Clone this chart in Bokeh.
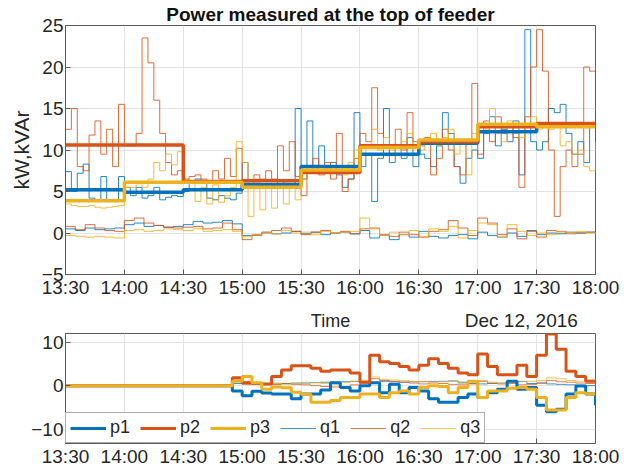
from bokeh.plotting import figure
from bokeh.models import FixedTicker, Legend, LegendItem, Range1d, Title
from bokeh.core.properties import value
from bokeh.layouts import column
from bokeh.embed import file_html
from bokeh.resources import INLINE

# ---------------- data ----------------
tick_minutes = [0, 30, 60, 90, 120, 150, 180, 210, 240, 270]
tick_labels = ["13:30", "14:00", "14:30", "15:00", "15:30", "16:00", "16:30", "17:00", "17:30", "18:00"]

# measured active power per phase, one sample every 3 minutes from 13:30
p1 = [7.4, 5.0, 7.2, 8.3, 4.2, 4.0, 6.8, 4.0, 3.8, 6.8, 5.5,
      4.5, 5.5, 4.2, 4.5, 5.5, 4.0, 4.3, 4.5, 4.4, 5.0,
      6.0, 6.5, 6.3, 4.2, 4.0, 4.5, 4.2, 4.0, 4.8, 8.5,
      5.5, 6.0, 5.8, 5.5, 5.8, 6.2, 6.0, 5.5, 15.0, 6.5,
      13.5, 8.0, 10.5, 7.5, 8.5, 7.0, 5.5, 6.5, 14.5, 8.0,
      9.5, 3.8, 9.0, 15.0, 8.5, 10.5, 9.0, 11.5, 8.0, 9.5,
      9.0, 8.0, 10.5, 14.5, 12.0, 8.0, 6.0, 9.0, 10.0, 9.0,
      12.0, 14.0, 10.5, 12.5, 11.0, 13.5, 7.0, 24.5, 11.0, 10.0,
      11.0, 15.0, 14.5, 15.5, 12.0, 9.5, 11.0, 8.5, 13.0, 14.5]
p2 = [12.5, 15.0, 8.0, 7.5, 11.8, 13.5, 9.5, 12.5, 8.0, 15.5, 10.5,
      10.5, 12.0, 23.5, 20.5, 16.0, 12.0, 8.5, 7.0, 7.5, 6.5,
      6.8, 7.0, 6.5, 6.2, 7.5, 6.5, 9.0, 6.8, 10.2, 6.0,
      6.0, 7.0, 6.5, 7.5, 6.5, 10.5, 7.5, 11.0, 6.8, 4.5,
      7.5, 9.0, 7.0, 8.5, 6.5, 12.0, 5.0, 6.5, 9.0, 12.0,
      11.0, 17.5, 12.0, 10.5, 9.5, 12.5, 10.0, 14.5, 11.0, 10.5,
      11.5, 7.0, 9.0, 12.5, 10.0, 8.0, 7.0, 11.0, 18.0, 9.5,
      13.5, 11.0, 14.0, 12.0, 13.0, 11.5, 5.5, 14.0, 20.0, 24.5,
      19.5, 10.0, 2.0, 8.0, 10.0, 8.0, 9.5, 20.0, 19.5, 20.0]
p3 = [3.5, 3.3, 3.2, 3.2, 3.3, 3.1, 3.0, 3.1, 3.2, 3.3, 5.5,
      5.5, 6.0, 5.5, 6.5, 8.5, 7.5, 9.5, 8.2, 9.8, 6.5,
      6.0, 3.8, 5.5, 3.5, 5.8, 3.7, 4.5, 5.5, 11.0, 8.5,
      2.0, 6.5, 2.8, 6.0, 3.0, 5.8, 3.5, 6.0, 4.0, 6.5,
      7.5, 8.0, 7.2, 7.8, 8.0, 7.5, 7.0, 8.5, 10.0, 9.5,
      10.5, 12.5, 10.0, 11.5, 10.0, 9.5, 11.0, 12.0, 10.5, 10.0,
      11.0, 12.0, 10.5, 11.5, 12.5, 9.5, 11.0, 7.0, 12.0, 13.0,
      12.5, 15.0, 12.0, 11.0, 13.5, 12.0, 11.5, 13.0, 14.0, 12.5,
      13.0, 12.5, 13.0, 10.5, 11.0, 9.5, 10.0, 8.0, 7.5, 11.0]

# measured reactive power per phase, one sample every 5 minutes from 13:30
q1 = [0.5, 0.3, 0.6, 0.4, 0.5, 0.6,
      1.0, 1.2, 0.8, 0.9, 0.7, 0.8,
      1.0, 1.4, 1.2, 1.3, 1.5, 1.1,
      -0.3, -0.2, 0.1, -0.1, 0.0, 0.2,
      -0.1, 0.1, -0.2, 0.0, 0.1, -0.1,
      0.3, -0.6, -0.3, -0.8, -0.2, -0.5,
      0.2, -0.4, -0.6, -0.3, -0.2, -0.7,
      0.1, -0.3, -0.5, 0.0, -0.4, 0.3,
      -0.2, 0.0, -0.1, 0.1, 0.0, 0.1,
      0.4]
q2 = [0.8, 0.4, 1.0, 0.6, 0.3, 0.2,
      1.5, 1.8, 1.2, 0.9, 0.7, 0.6,
      0.7, 0.8, 0.5, 0.6, 1.2, 0.4,
      -0.8, -0.3, 0.0, 0.3, 0.6, 0.2,
      -0.2, 0.1, 0.3, 0.0, 0.2, -0.1,
      0.5, 0.6, -0.2, -0.4, 0.1, -0.2,
      -0.5, 0.2, 0.4, 1.5, 0.6, -0.3,
      1.8, 1.2, -0.2, 0.5, -0.7, 0.2,
      -0.5, 0.3, 0.2, -0.1, 0.0, 0.1,
      0.0]
q3 = [-0.3, -0.4, -0.5, -0.4, -0.5, -0.6,
      0.3, 0.4, 0.2, 0.3, 0.5, 0.4,
      0.3, 0.5, 0.2, 0.3, 0.4, 0.2,
      -0.4, -0.2, 0.1, -0.1, 0.3, 0.0,
      0.1, -0.2, 0.2, 0.0, 0.1, 0.2,
      1.8, 0.5, -0.3, 0.1, -0.2, 0.3,
      -0.4, 0.5, 0.2, 0.8, -0.6, 0.3,
      1.2, 1.0, -0.5, 1.0, 0.2, -0.3,
      0.0, -0.2, 0.1, 0.0, 0.2, 0.0,
      0.1]

# 30-minute averages (thick steps)
avg_edges = [0, 30, 60, 90, 120, 150, 180, 210, 240, 270]
avg_p1 = [5.2, 4.9, 5.2, 5.8, 8.0, 9.5, 10.8, 12.2, 13.0]
avg_p2 = [10.6, 10.6, 6.2, 6.3, 7.3, 10.5, 11.0, 12.8, 13.2]
avg_p3 = [3.9, 6.1, 6.1, 5.5, 7.6, 10.3, 11.2, 13.1, 12.8]

# lower panel: deviations, zero until 14:55 then 5-minute steps
diff_start = 85
d_p1 = [-1.2, -2.3, -1.3, -1.7, -1.9, -1.9, -3.0, -1.9, -1.9, -1.0,
        0.7, -0.4, -1.2, 0.0, 0.7, -1.6, 0.3, -1.6, -0.4, -1.2,
        -3.0, -3.8, -3.8, -2.7, -1.9, -2.7, -1.6, -0.8, 1.0, -0.8,
        -0.4, -4.5, -6.0, -5.4, -1.9, -0.1, -1.9, -4.5]
d_p2 = [1.8, 0.7, 0.5, 0.4, 2.1, 3.6, 4.6, 4.6, 4.0, 3.3,
        3.6, 3.6, 2.9, 0.8, 7.0, 5.5, 5.1, 4.4, 3.6, 4.7,
        6.2, 5.1, 4.0, 2.9, 2.5, 7.3, 4.4, 2.5, 2.5, 4.7,
        2.1, 7.0, 11.9, 8.4, 3.3, 2.1, 1.0, 0.7]
d_p3 = [1.0, 2.1, 0.7, -0.8, -0.3, -0.5, -1.5, -2.0, -3.8, -3.8,
        -3.4, -2.7, -2.7, -1.9, -1.9, -2.7, -1.6, -1.2, -1.9, -0.4,
        0.0, -0.2, -1.6, -0.4, 1.0, -2.7, -1.2, -1.2, -0.6, -0.4,
        -0.8, -2.7, -5.6, -5.6, -2.7, -1.6, -1.9, -1.9]
d_q1 = [0.5, 0.8, 0.5, 0.3, 0.4, 0.5, 0.6, 0.6, 0.7, 0.8,
        0.8, 0.9, 1.0, 0.8, 0.7, 1.0, 0.9, 0.8, 0.9, 0.9,
        1.0, 1.0, 1.1, 0.8, 0.5, 0.4, 0.5, 0.6, 0.9, 1.0,
        0.5, 0.6, 0.4, 0.3, 0.2, 0.1, 0.0, 0.2]
d_q2 = [1.0, 0.3, 0.6, 0.4, 0.3, 0.5, 0.3, 0.2, 0.0, -0.2,
        -0.3, -0.2, 0.2, 0.6, 1.6, 1.2, 1.0, 0.8, 0.6, 0.4,
        0.6, 0.5, 0.3, 0.2, 0.4, 1.0, 0.6, 0.4, 0.5, 0.2,
        0.3, 0.6, 1.2, 0.9, 0.8, 0.6, 0.5, 0.8]
d_q3 = [1.5, 1.0, 0.6, 0.5, 0.6, 0.3, 0.6, 0.8, 0.7, 0.5,
        0.4, 0.7, 1.0, 1.2, 2.0, 1.4, 1.3, 1.2, 1.0, 1.0,
        0.8, 0.9, 1.0, 0.5, 0.9, 1.2, 0.8, 0.5, 0.7, 0.9,
        1.0, 1.2, 1.8, 1.6, 1.2, 1.0, 1.3, 1.5]

title_text = "Power measured at the top of feeder"
xlabel_text = "Time"
date_text = "Dec 12, 2016"
ylabel_text = "kW,kVAr"

# ---------------- styling ----------------
BLUE, ORANGE, YELLOW = "#0072BD", "#D95319", "#EDB120"
FONT = "Liberation Sans"
INK = "#262626"
EDGE = "#5a5a5a"
LB, RB = 65, 28
W = LB + 530 + RB

t_p = [3 * i for i in range(len(p1))]
t_q = [5 * i for i in range(len(q1))]
t_d = [0] + [diff_start + 5 * i for i in range(len(d_p1))]


def style(p, yticks):
    p.outline_line_color = EDGE
    p.outline_line_width = 1
    p.xaxis.ticker = FixedTicker(ticks=tick_minutes)
    p.xaxis.major_label_overrides = {m: s for m, s in zip(tick_minutes, tick_labels)}
    p.yaxis.ticker = FixedTicker(ticks=yticks)
    for ax in (p.xaxis[0], p.yaxis[0]):
        ax.major_tick_in = 5
        ax.major_tick_out = 0
        ax.minor_tick_in = 0
        ax.minor_tick_out = 0
        ax.axis_line_color = EDGE
        ax.major_tick_line_color = EDGE
        ax.major_label_text_font = FONT
        ax.major_label_text_font_size = "19px"
        ax.major_label_text_color = INK
        ax.major_label_standoff = 2
    p.xgrid.ticker = FixedTicker(ticks=tick_minutes)
    p.ygrid.ticker = FixedTicker(ticks=yticks)
    p.grid.grid_line_color = "#e3e3e3"
    p.grid.grid_line_width = 1
    p.background_fill_color = "white"
    p.border_fill_color = "white"
    p.min_border_left = LB
    p.min_border_right = RB


x_range = Range1d(0, 270)

# ---- top panel ----
top = figure(width=W, height=303, output_backend="svg", toolbar_location=None,
             x_range=x_range, y_range=Range1d(-5, 25), title=None,
             min_border_top=25, min_border_bottom=29)
top.add_layout(Title(text=title_text, align="center", text_font=FONT, text_font_size="19px",
                     text_font_style="bold", text_color="#111111", offset=0, standoff=2), "above")
style(top, [-5, 0, 5, 10, 15, 20, 25])
top.yaxis[0].axis_label = ylabel_text
top.yaxis[0].axis_label_text_font = FONT
top.yaxis[0].axis_label_text_font_size = "21px"
top.yaxis[0].axis_label_text_font_style = "normal"
top.yaxis[0].axis_label_text_color = INK
top.yaxis[0].axis_label_standoff = 6

for ys, c in ((p1, BLUE), (p2, ORANGE), (p3, YELLOW)):
    top.step(t_p, ys, mode="after", line_color=c, line_width=1, line_alpha=0.85)
for ys, c in ((q1, BLUE), (q2, ORANGE), (q3, YELLOW)):
    top.step(t_q, ys, mode="after", line_color=c, line_width=1, line_alpha=0.85)
for ys, c in ((avg_p1, BLUE), (avg_p2, ORANGE), (avg_p3, YELLOW)):
    top.step(avg_edges, ys + [ys[-1]], mode="after", line_color=c, line_width=3.5)

# ---- strip carrying the x label and the date ----
strip = figure(width=W, height=29, output_backend="svg", toolbar_location=None,
               x_range=x_range, y_range=Range1d(0, 1),
               min_border_left=LB, min_border_right=RB, min_border_top=0, min_border_bottom=0)
strip.axis.visible = False
strip.grid.visible = False
strip.outline_line_color = None
strip.background_fill_color = "white"
strip.border_fill_color = "white"
strip.text(x=[(tick_minutes[0] + tick_minutes[-1]) / 2], y=[0.41], text=[xlabel_text],
           text_align="center", text_baseline="middle", text_font=value(FONT),
           text_font_size="18px", text_color=INK)
strip.text(x=[261], y=[0.41], text=[date_text],
           text_align="right", text_baseline="middle", text_font=value(FONT),
           text_font_size="19px", text_color=INK)

# ---- bottom panel ----
bot = figure(width=W, height=137, output_backend="svg", toolbar_location=None,
             x_range=x_range, y_range=Range1d(-13.3, 12),
             min_border_top=1, min_border_bottom=23)
style(bot, [-10, 0, 10])

r = {}
for name, ys, c in (("q1", d_q1, BLUE), ("q2", d_q2, ORANGE), ("q3", d_q3, YELLOW)):
    r[name] = bot.step(t_d, [0.0] + ys, mode="after", line_color=c, line_width=1, line_alpha=0.75)
for name, ys, c in (("p1", d_p1, BLUE), ("p2", d_p2, ORANGE), ("p3", d_p3, YELLOW)):
    r[name] = bot.step(t_d, [0.0] + ys, mode="after", line_color=c, line_width=3)

legend = Legend(items=[LegendItem(label=k, renderers=[r[k]]) for k in ("p1", "p2", "p3", "q1", "q2", "q3")],
                orientation="horizontal", location="bottom_left", margin=0, padding=4,
                spacing=10, glyph_width=36, glyph_height=18, label_standoff=4,
                label_text_font=FONT, label_text_font_size="18px", label_text_color=INK,
                label_height=18, border_line_color=EDGE, background_fill_alpha=1)
bot.add_layout(legend)

layout = column(top, strip, bot, spacing=0)
open("out.html", "w").write(file_html(layout, INLINE))
